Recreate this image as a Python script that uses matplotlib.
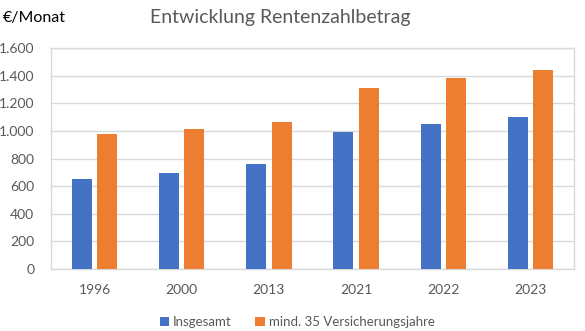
import matplotlib.pyplot as plt
import numpy as np

plt.rcParams['font.family'] = ['Lato', 'DejaVu Sans']

# Rentenzahlbetrag in EUR/Monat
jahre = ['1996', '2000', '2013', '2021', '2022', '2023']
insgesamt = [654, 697, 762, 994, 1052, 1103]
mind35 = [980, 1016, 1066, 1312, 1385, 1443]

fig = plt.figure(figsize=(5.85, 3.31), dpi=100)
ax = fig.add_axes([51 / 585, 1 - 269 / 331, 523 / 585, 221 / 331])

x = np.arange(len(jahre))
w = 0.23
off = 0.145
ax.bar(x - off, insgesamt, w, color='#4472C4', label='Insgesamt', zorder=3)
ax.bar(x + off, mind35, w, color='#ED7D31', label='mind. 35 Versicherungsjahre', zorder=3)

ax.set_xlim(-0.5, len(jahre) - 0.5)
ax.set_ylim(0, 1600)
yt = np.arange(0, 1601, 200)
ax.set_yticks(yt)
ax.set_yticklabels([f'{v:,}'.replace(',', '.') for v in yt])
ax.set_xticks(x)
ax.set_xticklabels(jahre)
ax.tick_params(length=0, labelsize=10, labelcolor='#595959')
ax.tick_params(axis='x', pad=11)
ax.tick_params(axis='y', pad=12)
ax.grid(axis='y', color='#d9d9d9', lw=1, zorder=0)
for s in ax.spines.values():
    s.set_color('#d9d9d9')
    s.set_linewidth(1)

fig.text(280 / 585, 1 - 17 / 331, 'Entwicklung Rentenzahlbetrag', ha='center', va='center',
         fontsize=14, color='#595959')
fig.text(3 / 585, 1 - 18 / 331, '€/Monat', ha='left', va='center', fontsize=11.5, color='black')

fig.legend(loc='center', bbox_to_anchor=(297 / 585, 1 - 322 / 331), ncol=2, frameon=False,
           fontsize=9.5, labelcolor='#595959', handlelength=0.7, handleheight=0.7,
           handletextpad=0.3, columnspacing=1.8)

fig.savefig('out.png', dpi=100)
